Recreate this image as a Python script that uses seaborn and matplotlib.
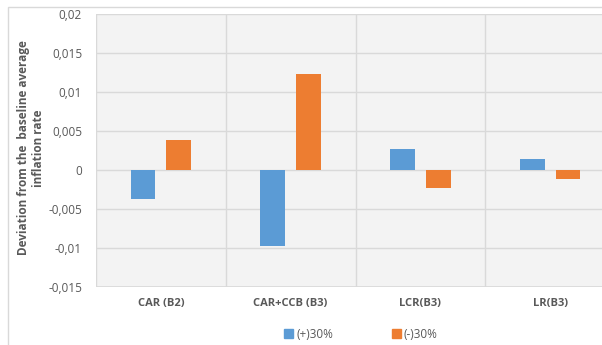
import matplotlib
matplotlib.use("Agg")
import matplotlib.pyplot as plt
import matplotlib.patches as mpatches
import seaborn as sns
import pandas as pd
from matplotlib.ticker import FuncFormatter, MultipleLocator

categories = ["CAR (B2)", "CAR+CCB (B3)", "LCR(B3)", "LR(B3)"]
series_names = ["(+)30%", "(-)30%"]
plus_30 = [-0.0037, -0.0098, 0.0027, 0.0014]
minus_30 = [0.0038, 0.0123, -0.0023, -0.0011]
colors = ["#5b9bd5", "#ed7d31"]
ylabel_lines = ["Deviation from the  baseline average", "inflation rate"]

df = pd.DataFrame({
    "category": categories * 2,
    "scenario": [series_names[0]] * 4 + [series_names[1]] * 4,
    "value": plus_30 + minus_30,
})

sns.set_theme(style="white")
plt.rcParams["font.family"] = ["Open Sans", "DejaVu Sans"]
W, H = 602, 345
fig = plt.figure(figsize=(W / 100, H / 100), dpi=100)

# plot area in pixel terms; the last category runs past the right edge
left, right, top, bottom = 96, 615, 14, 287
ax = fig.add_axes([left / W, 1 - bottom / H, (right - left) / W, (bottom - top) / H])
ax.set_facecolor("#f3f3f3")

sns.barplot(data=df, x="category", y="value", hue="scenario", palette=colors,
            width=0.55, gap=0.31, ax=ax, legend=False, saturation=1,
            edgecolor="none")

ax.set_ylim(-0.015, 0.02)
ax.set_xlim(-0.5, len(categories) - 0.5)
ax.yaxis.set_major_locator(MultipleLocator(0.005))
ax.yaxis.set_major_formatter(FuncFormatter(
    lambda v, _: "0" if abs(v) < 1e-12 else f"{v:g}".replace(".", ",")))
ax.grid(axis="y", color="#d9d9d9", linewidth=1)
for b in range(len(categories) + 1):
    ax.axvline(b - 0.5, color="#d9d9d9", linewidth=1, zorder=0)
ax.set_axisbelow(True)
for s in ax.spines.values():
    s.set_visible(False)
ax.axhline(-0.015, color="#d9d9d9", linewidth=1.2)

ax.tick_params(axis="both", length=0, colors="#595959", labelsize=8.5)
ax.tick_params(axis="y", pad=10)
ax.tick_params(axis="x", pad=8, labelsize=8)
for t in ax.get_xticklabels():
    t.set_fontweight("bold")
ax.set_xlabel("")
ax.set_ylabel("")

# two-line axis title, each line centred on the plot's vertical middle
for xpix, line in zip([24, 39], ylabel_lines):
    fig.text(xpix / W, 1 - 148 / H, line, rotation=90, ha="center", va="center",
             fontsize=8.5, fontweight="bold", color="#595959")

# chart frame
fig.add_artist(mpatches.Rectangle((8 / W, -0.1), 1.2, 1 - 7 / H + 0.1,
                                  transform=fig.transFigure, fill=False,
                                  edgecolor="#d9d9d9", linewidth=1))

handles = [mpatches.Patch(color=c, label=n) for c, n in zip(colors, series_names)]
fig.legend(handles=handles, loc="center", bbox_to_anchor=(361 / W, 1 - 334 / H),
           ncol=2, frameon=False, fontsize=8.5, handlelength=0.75,
           handleheight=0.75, handletextpad=0.25, columnspacing=5.0,
           labelcolor="#595959")

fig.savefig("out.png", dpi=100)
